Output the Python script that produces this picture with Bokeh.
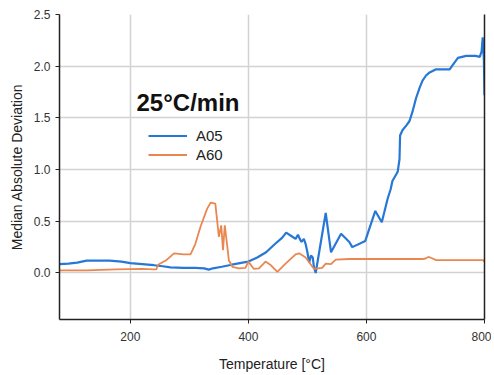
from bokeh.plotting import figure
from bokeh.models import (Range1d, FixedTicker, PrintfTickFormatter, LinearAxis,
                          Legend, LegendItem, Label)
from bokeh.embed import file_html
from bokeh.resources import INLINE

# ---- data ----
a05_temp = [80, 95, 110, 126, 145, 165, 185, 200, 220, 240, 255, 268, 290, 310, 325,
            333, 340, 355, 372, 390, 400, 415, 430, 445, 457, 464, 472, 480, 484, 487,
            490, 494, 497, 500, 503, 506, 509, 511, 514, 531, 540, 557, 571, 576, 598,
            615, 626, 636, 641, 644, 651, 653, 656, 657, 661, 668, 673, 678, 684, 690,
            695, 701, 707, 718, 730, 741, 746, 755, 769, 785, 792, 795, 797, 799, 800]
a05_mad = [0.085, 0.09, 0.10, 0.12, 0.12, 0.12, 0.11, 0.095, 0.085, 0.075, 0.065, 0.055,
           0.05, 0.05, 0.045, 0.032, 0.045, 0.06, 0.08, 0.10, 0.11, 0.15, 0.20, 0.28,
           0.34, 0.39, 0.36, 0.33, 0.37, 0.33, 0.30, 0.33, 0.28, 0.20, 0.10, 0.17, 0.15,
           0.06, 0.00, 0.58, 0.20, 0.38, 0.30, 0.25, 0.31, 0.60, 0.49, 0.72, 0.81, 0.89,
           0.96, 0.98, 1.10, 1.33, 1.38, 1.43, 1.47, 1.56, 1.69, 1.79, 1.86, 1.91, 1.94,
           1.97, 1.97, 1.97, 2.01, 2.08, 2.10, 2.10, 2.09, 2.14, 2.28, 2.05, 1.72]

a60_temp = [80, 100, 126, 150, 175, 200, 220, 240, 244, 247, 260, 274, 290, 302, 310,
            319, 330, 336, 344, 350, 354, 357, 360, 364, 367, 373, 384, 395, 400, 409,
            418, 429, 437, 449, 463, 480, 486, 497, 511, 525, 531, 540, 548, 571, 600,
            650, 695, 700, 705, 710, 718, 760, 797, 800]
a60_mad = [0.025, 0.025, 0.025, 0.03, 0.035, 0.038, 0.04, 0.035, 0.035, 0.08, 0.12,
           0.19, 0.18, 0.18, 0.28, 0.45, 0.62, 0.68, 0.67, 0.35, 0.46, 0.22, 0.46, 0.27,
           0.12, 0.06, 0.045, 0.05, 0.11, 0.04, 0.045, 0.11, 0.08, 0.01, 0.09, 0.18,
           0.19, 0.15, 0.04, 0.05, 0.09, 0.085, 0.13, 0.135, 0.135, 0.135, 0.135, 0.14,
           0.155, 0.145, 0.125, 0.125, 0.125, 0.11]

series_names = ["A05", "A60"]
x_ticks = [200, 400, 600, 800]
y_ticks = [0.0, 0.5, 1.0, 1.5, 2.0, 2.5]
title_text = "25°C/min"
x_label = "Temperature [°C]"
y_label = "Median Absolute Deviation"

BLUE = "#2778d6"
ORANGE = "#ea8750"
FONT = "Liberation Sans"

p = figure(width=491, height=374, output_backend="svg", toolbar_location=None,
           x_range=Range1d(80, 800), y_range=Range1d(-0.45, 2.5),
           min_border_left=59, min_border_right=7, min_border_top=14,
           min_border_bottom=55)
p.outline_line_color = None
p.background_fill_color = "white"

r1 = p.line(a05_temp, a05_mad, line_color=BLUE, line_width=2.2)
r2 = p.line(a60_temp, a60_mad, line_color=ORANGE, line_width=1.8)

for ax in (p.xaxis[0], p.yaxis[0]):
    ax.axis_line_color = "#222222"
    ax.axis_line_width = 1.5
    ax.major_tick_line_color = "#222222"
    ax.major_tick_out = 4
    ax.major_tick_in = 0
    ax.minor_tick_line_color = None
    ax.major_label_text_font = FONT
    ax.major_label_text_font_size = "12px"
    ax.major_label_text_color = "#333333"
    ax.axis_label_text_font = FONT
    ax.axis_label_text_font_size = "14px"
    ax.axis_label_text_font_style = "normal"
    ax.axis_label_text_color = "#222222"

p.xaxis[0].ticker = FixedTicker(ticks=x_ticks)
p.xaxis[0].axis_label = x_label
p.xaxis[0].axis_label_standoff = 12
p.xaxis[0].major_label_standoff = 8
p.yaxis[0].ticker = FixedTicker(ticks=y_ticks)
p.yaxis[0].formatter = PrintfTickFormatter(format="%.1f")
p.yaxis[0].axis_label = y_label
p.yaxis[0].axis_label_standoff = 6
p.yaxis[0].major_label_standoff = 5

p.xgrid.ticker = FixedTicker(ticks=x_ticks)
p.ygrid.ticker = FixedTicker(ticks=y_ticks)
p.grid.grid_line_color = "#d2d2d2"
p.grid.grid_line_width = 1.5

right = LinearAxis(major_tick_line_color=None, minor_tick_line_color=None,
                   major_label_text_font_size="0px", axis_line_color="#222222",
                   axis_line_width=1.5, ticker=FixedTicker(ticks=[]))
p.add_layout(right, "right")

legend = Legend(items=[LegendItem(label=series_names[0], renderers=[r1]),
                       LegendItem(label=series_names[1], renderers=[r2])],
                location=(89, 155), padding=0, margin=0, spacing=0,
                glyph_width=39, glyph_height=19, label_height=19,
                label_standoff=9, border_line_color=None,
                background_fill_alpha=0,
                label_text_font=FONT, label_text_font_size="15px",
                label_text_color="#222222")
p.add_layout(legend)

title = Label(x=77, y=217, x_units="screen", y_units="screen", text=title_text,
              text_font=FONT, text_font_size="24px", text_font_style="bold",
              text_color="#111111", text_baseline="alphabetic")
p.add_layout(title)

open("out.html", "w").write(file_html(p, INLINE))
